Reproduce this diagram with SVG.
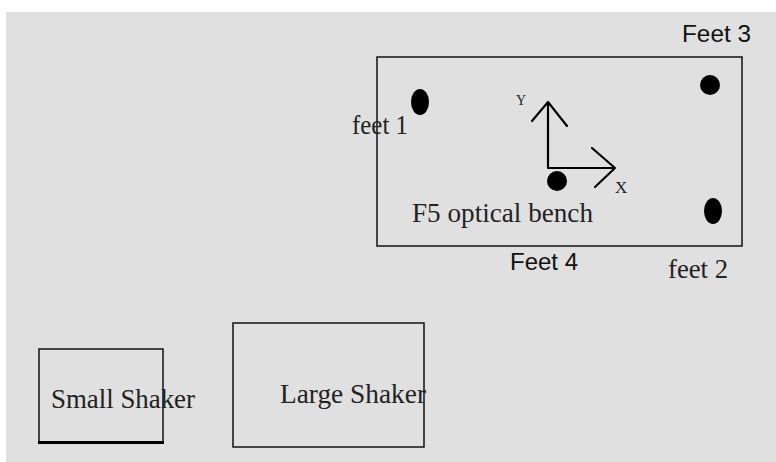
<svg xmlns="http://www.w3.org/2000/svg" width="776" height="462" viewBox="0 0 776 462">
<style>
.box{fill:none;stroke:#111;stroke-width:1.5}
.serif{font-family:"Liberation Serif","Times New Roman",serif;fill:#222}
.sans{font-family:"Liberation Sans",Arial,sans-serif;fill:#111}
.foot{fill:#000}
.ax{stroke:#000;stroke-width:2.2;fill:none;stroke-linecap:round;stroke-linejoin:round}
</style>
<rect x="0" y="0" width="776" height="462" fill="#fff"/>
<rect x="6" y="12" width="770" height="450" fill="#e0e0e0"/>
<g id="bench">
<rect class="box" x="377" y="57" width="365" height="189"/>
<text class="serif" x="412" y="222" font-size="26.5" textLength="181" lengthAdjust="spacingAndGlyphs">F5 optical bench</text>
</g>
<g id="axes">
<path class="ax" d="M548,102 V168 H615 M532,121 L548,102 L567,126 M592,148 L615,168 L595,187"/>
<text class="serif" x="516" y="105" font-size="14">Y</text>
<text class="serif" x="615" y="193" font-size="17">X</text>
</g>
<g id="feet1">
<ellipse class="foot" cx="420" cy="102" rx="9" ry="13"/>
<text class="serif" x="352" y="134" font-size="26.5" textLength="56" lengthAdjust="spacingAndGlyphs">feet 1</text>
</g>
<g id="feet2">
<ellipse class="foot" cx="713" cy="211" rx="9" ry="13"/>
<text class="serif" x="668" y="278" font-size="26.5" textLength="60" lengthAdjust="spacingAndGlyphs">feet 2</text>
</g>
<g id="feet3">
<circle class="foot" cx="710" cy="85" r="10"/>
<text class="sans" x="682" y="41.5" font-size="23" textLength="69" lengthAdjust="spacingAndGlyphs">Feet 3</text>
</g>
<g id="feet4">
<circle class="foot" cx="557" cy="181" r="10"/>
<text class="sans" x="510" y="270" font-size="23" textLength="68" lengthAdjust="spacingAndGlyphs">Feet 4</text>
</g>
<g id="small-shaker">
<rect class="box" x="39" y="349" width="124" height="94"/>
<line x1="38" y1="442.5" x2="164" y2="442.5" stroke="#000" stroke-width="3"/>
<text class="serif" x="51" y="408" font-size="26.5" textLength="144" lengthAdjust="spacingAndGlyphs">Small Shaker</text>
</g>
<g id="large-shaker">
<rect class="box" x="233" y="323" width="191" height="124"/>
<text class="serif" x="280" y="403" font-size="26.5" textLength="146" lengthAdjust="spacingAndGlyphs">Large Shaker</text>
</g>
<g id="connectors"></g>
</svg>
